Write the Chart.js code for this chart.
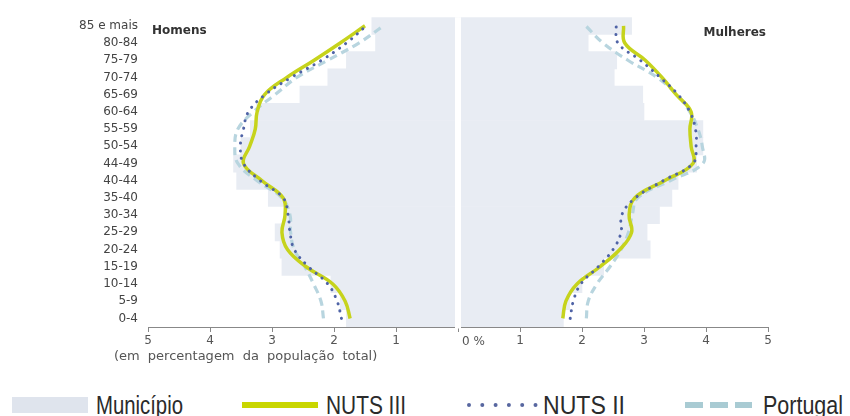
<!DOCTYPE html>
<html><head><meta charset="utf-8">
<script src="https://cdn.jsdelivr.net/npm/chart.js@4/dist/chart.umd.min.js"></script>
<style>
html,body{margin:0;padding:0;background:#fff;width:850px;height:416px;overflow:hidden}
#wrap{position:relative;width:850px;height:416px}
#c{position:absolute;left:0;top:0}
#legend{position:absolute;left:0;top:380px}
#legend text{font-family:'Liberation Sans','Arial',sans-serif;font-size:25px;fill:#2b2b2b}
</style></head>
<body>
<div id="wrap">
<canvas id="c" width="850" height="372"></canvas>
<svg id="legend" width="850" height="36" viewBox="0 380 850 36" xmlns="http://www.w3.org/2000/svg">
  <rect x="12" y="397" width="76" height="16" fill="#dfe4ed"/>
  <text x="96" y="414" textLength="87" lengthAdjust="spacingAndGlyphs">Município</text>
  <line x1="242" y1="405" x2="318" y2="405" stroke="#c9d600" stroke-width="6"/>
  <text x="326" y="414" textLength="80" lengthAdjust="spacingAndGlyphs">NUTS III</text>
  <line x1="469" y1="405" x2="536" y2="405" stroke="#5867a0" stroke-width="4" stroke-dasharray="0 13.3" stroke-linecap="round"/>
  <text x="543" y="414" textLength="82" lengthAdjust="spacingAndGlyphs">NUTS II</text>
  <line x1="685" y1="405" x2="752" y2="405" stroke="#a9cbd3" stroke-width="6" stroke-dasharray="18 7"/>
  <text x="763" y="414" textLength="80" lengthAdjust="spacingAndGlyphs">Portugal</text>
</svg>
</div>
<script>
// ---- data (percent of total population) ----
const ageGroups = ['0-4','5-9','10-14','15-19','20-24','25-29','30-34','35-40','40-44','44-49','50-54','55-59','60-64','65-69','70-74','75-79','80-84','85 e mais'];

const menMunicipio   = [1.80, 1.90, 2.05, 2.84, 2.87, 2.95, 2.80, 3.06, 3.57, 3.62, 3.50, 3.35, 3.25, 2.55, 2.10, 1.80, 1.33, 1.39];
const menNuts3       = [1.74, 1.82, 2.02, 2.45, 2.75, 2.84, 2.79, 2.82, 3.16, 3.46, 3.36, 3.27, 3.24, 3.12, 2.76, 2.32, 1.90, 1.50];
const menNuts2       = [1.88, 1.95, 2.10, 2.41, 2.64, 2.71, 2.74, 2.82, 3.19, 3.46, 3.51, 3.46, 3.38, 3.11, 2.69, 2.20, 1.80, 1.48];
const menPortugal    = [2.17, 2.21, 2.33, 2.47, 2.64, 2.70, 2.71, 2.84, 3.24, 3.55, 3.60, 3.55, 3.30, 2.95, 2.60, 2.10, 1.60, 1.20];

const womenMunicipio = [1.70, 1.80, 2.00, 2.35, 3.10, 3.05, 3.25, 3.45, 3.55, 3.85, 3.95, 3.95, 3.00, 2.98, 2.52, 2.56, 2.10, 2.80];
const womenNuts3     = [1.69, 1.74, 1.92, 2.29, 2.61, 2.80, 2.76, 2.85, 3.33, 3.79, 3.76, 3.74, 3.76, 3.52, 3.29, 3.02, 2.69, 2.67];
const womenNuts2     = [1.81, 1.86, 1.98, 2.26, 2.50, 2.63, 2.64, 2.86, 3.31, 3.79, 3.84, 3.83, 3.74, 3.55, 3.26, 2.94, 2.58, 2.55];
const womenPortugal  = [2.07, 2.10, 2.24, 2.45, 2.63, 2.75, 2.81, 2.90, 3.42, 3.95, 3.94, 3.87, 3.74, 3.53, 3.21, 2.74, 2.34, 2.06];

const xTicks = [-5,-4,-3,-2,-1,0,1,2,3,4,5];
const panelLabels = ['Homens','Mulheres'];
const axisNote = '(em percentagem da população total)';

// ---- styles ----
const C_MUN = '#e8ecf3', C_N3 = '#c6d31c', C_N2 = '#4f63a6', C_PT = '#b8d5df';
const neg = a => a.map(v => -v);

function lineDs(label, data, kind) {
  const base = {type:'line', label, data, pointRadius:0, fill:false, tension:0.4};
  if (kind === 'n3') return Object.assign(base, {borderColor:C_N3, borderWidth:3.5, order:2});
  if (kind === 'n2') return Object.assign(base, {borderColor:C_N2, borderWidth:3, borderDash:[0.1,7.5], borderCapStyle:'round', order:1});
  return Object.assign(base, {borderColor:C_PT, borderWidth:3.2, borderDash:[8,5], order:3});
}

const decor = {
  id:'decor',
  afterDatasetsDraw(chart){
    const {ctx, chartArea:a, scales:{x}} = chart;
    const x0 = x.getPixelForValue(0);
    ctx.save();
    ctx.fillStyle = '#fff';
    ctx.fillRect(x0-3, a.top, 6, a.bottom - a.top + 1.5);
    ctx.fillStyle = '#333';
    ctx.font = 'bold 12px "DejaVu Sans"';
    ctx.textBaseline = 'middle';
    ctx.textAlign = 'left';
    ctx.fillText(panelLabels[0], a.left + 4, a.top + 14);
    ctx.textAlign = 'right';
    ctx.fillText(panelLabels[1], a.right - 2, a.top + 16);
    ctx.fillStyle = '#555';
    ctx.font = '12px "DejaVu Sans"';
    ctx.textAlign = 'left';
    ctx.fillText('0 %', x0 + 4, a.bottom + 15);
    ctx.font = '13px "DejaVu Sans"';
    try { ctx.wordSpacing = '4px'; } catch(e) {}
    ctx.fillText(axisNote, a.left - 34, a.bottom + 30);
    ctx.restore();
  }
};

new Chart(document.getElementById('c'), {
  data: {
    labels: ageGroups,
    datasets: [
      {type:'bar', label:'Município', data:neg(menMunicipio), backgroundColor:C_MUN, borderWidth:0, grouped:false, barPercentage:1, categoryPercentage:1, order:10},
      {type:'bar', label:'Município', data:womenMunicipio, backgroundColor:C_MUN, borderWidth:0, grouped:false, barPercentage:1, categoryPercentage:1, order:10},
      lineDs('Portugal', neg(menPortugal), 'pt'),
      lineDs('Portugal', womenPortugal, 'pt'),
      lineDs('NUTS III', neg(menNuts3), 'n3'),
      lineDs('NUTS III', womenNuts3, 'n3'),
      lineDs('NUTS II', neg(menNuts2), 'n2'),
      lineDs('NUTS II', womenNuts2, 'n2')
    ]
  },
  options: {
    indexAxis:'y',
    responsive:false,
    animation:false,
    devicePixelRatio:1,
    layout:{padding:{top:6, right:82, bottom:0, left:0}},
    plugins:{legend:{display:false}, tooltip:{enabled:false}},
    scales:{
      x:{
        type:'linear', min:-5, max:5,
        afterBuildTicks: s => { s.ticks = xTicks.map(v => ({value:v})); },
        afterFit: s => { s.height = 45; },
        grid:{drawOnChartArea:false, drawTicks:true, tickLength:5, color:'#888'},
        border:{display:true, color:'#888', width:1},
        ticks:{color:'#555', font:{family:'DejaVu Sans', size:12}, padding:2, maxRotation:0,
               callback: v => v === 0 ? '' : String(Math.abs(v))}
      },
      y:{
        type:'category', reverse:true,
        afterFit: s => { s.width = 148; },
        grid:{display:false, drawTicks:false}, border:{display:false},
        ticks:{color:'#444', font:{family:'DejaVu Sans', size:12}, padding:10, autoSkip:false}
      }
    }
  },
  plugins:[decor]
});
</script>
</body></html>
